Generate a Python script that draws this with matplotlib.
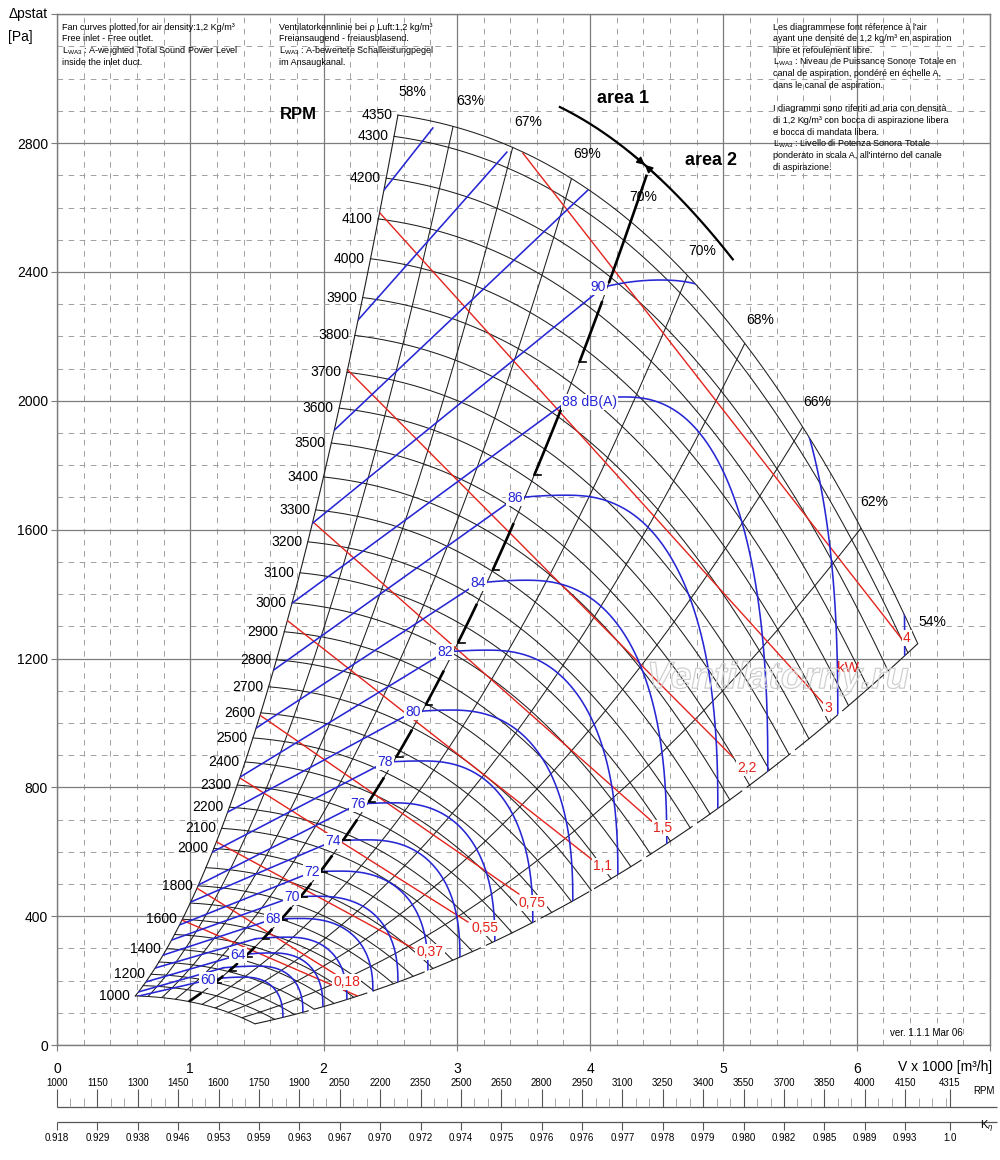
import numpy as np
import matplotlib.pyplot as plt
import matplotlib.patheffects as pe
from matplotlib.path import Path
from matplotlib.patches import PathPatch

plt.rcParams['font.family'] = ['Liberation Sans', 'DejaVu Sans']
plt.rcParams['mathtext.fontset'] = 'custom'
plt.rcParams['mathtext.rm'] = 'Liberation Sans'
plt.rcParams['mathtext.it'] = 'Liberation Sans:italic'
plt.rcParams['mathtext.bf'] = 'Liberation Sans:bold'
plt.rcParams['lines.scale_dashes'] = False

BLACK = '#1e1e1e'
BLUE = '#2626d4'
RED = '#e3231c'
GRID = '#7c7c7c'
GRID_MINOR = '#a0a0a0'

# ---- values (V x 1000 m3/h, static pressure in Pa) ----
# outer fan curve, 4350 rpm
base_rpm = 4350
base_v = [2.558, 2.970, 3.420, 3.863, 4.725, 5.160, 5.595, 6.038, 6.458]
base_p = [2887, 2850, 2788, 2694, 2384, 2179, 1918, 1608, 1242]

rpm_curves = list(range(1000, 4301, 100)) + [4350]
rpm_labels = [1000, 1200, 1400, 1600, 1800] + list(range(2000, 4301, 100)) + [4350]

# efficiency lines p = k * V^2
eff_k = [441, 323, 238.4, 180.5, 138, 106.8, 81.8, 61.3, 44.1, 29.78]
eff_text = ['58%', '63%', '67%', '69%', '70%', '70%', '68%', '66%', '62%', '54%']
eff_label_v = [2.663, 3.098, 3.533, 3.975, 4.395, 4.838, 5.273, 5.700, 6.135, 6.570]
eff_label_p = [2958, 2930, 2865, 2766, 2632, 2465, 2251, 1996, 1686, 1313]

# area 1 / area 2 border (70% line) and the arrow across it
border_k = 138
border_v = [0.99, 4.425]
arrow_v = [3.773, 4.148, 4.41, 4.523, 4.823, 5.07]
arrow_p = [2909, 2831, 2722, 2685, 2570, 2437]
arrow_cross_v = 4.41

# sound power contours LwA3, dB(A)
db_levels = [60, 62, 64, 66, 68, 70, 72, 74, 76, 78, 80, 82, 84, 86, 88, 90, 92, 94, 96]
db_start_v = [0.581, 0.612, 0.667, 0.736, 0.795, 0.860, 0.920, 1.003, 1.062, 1.165,
              1.280, 1.374, 1.494, 1.625, 1.764, 1.917, 2.081, 2.259, 2.453]
db_start_p = [149, 165, 196, 239, 279, 326, 373, 444, 497, 599,
              723, 832, 984, 1164, 1372, 1620, 1909, 2251, 2654]
db_cross_v = [1.133, 1.25, 1.358, 1.49, 1.620, 1.763, 1.913, 2.070, 2.258, 2.460,
              2.670, 2.910, 3.158, 3.435, 3.80, 4.10, 3.983, 3.375, 2.820]
db_cross_p = [202, 240, 279, 330, 391, 459, 537, 633, 748, 878,
              1034, 1220, 1434, 1698, 1990, 2353, 2654, 2772, 2847]
# area 2 arcs (60 ... 92): top of arc and foot on the 54% line
arc_peak_v = [1.395, 1.508, 1.613, 1.725, 1.823, 1.950, 2.123, 2.325, 2.520, 2.740,
              2.950, 3.230, 3.520, 3.820, 4.250, 4.523, 4.973]
arc_peak_p = [211, 245, 286, 335, 393, 462, 540, 637, 752, 882,
              1040, 1226, 1443, 1707, 2012, 2375, 2691]
arc_end_v = [1.695, 1.845, 1.995, 2.175, 2.370, 2.558, 2.783, 3.023, 3.285, 3.570,
             3.870, 4.208, 4.575, 4.958, 5.333, 5.858, 6.360]
arc_end_p = [86, 101, 119, 141, 167, 195, 231, 272, 321, 380,
             446, 527, 623, 732, 847, 1022, 1205]

db_label_text = ['60', '64', '68', '70', '72', '74', '76', '78', '80', '82',
                 '84', '86', '88 dB(A)', '90']
db_label_v = [1.133, 1.358, 1.620, 1.763, 1.913, 2.070, 2.258, 2.460, 2.670, 2.910,
              3.158, 3.435, 3.998, 4.058]
db_label_p = [202, 279, 391, 459, 537, 633, 748, 878, 1034, 1220,
              1434, 1698, 1996, 2353]

# shaft power lines, kW
kw_text = ['4', '3', '2,2', '1,5', '1,1', '0,75', '0,55', '0,37', '0,18', '']
kw_start_v = [3.495, 2.423, 2.183, 1.920, 1.725, 1.523, 1.373, 1.200, 1.050, 0.938]
kw_start_p = [2769, 2583, 2095, 1624, 1319, 1024, 829, 630, 487, 388]
kw_end_v = [6.345, 5.768, 5.070, 4.470, 4.020, 3.465, 3.083, 2.670, 2.100, 2.273]
kw_end_p = [1257, 1052, 894, 692, 574, 469, 382, 301, 217, 149]
kw_label_v = [6.375, 5.783, 5.175, 4.545, 4.095, 3.563, 3.210, 2.798, 2.175]
kw_label_p = [1263, 1046, 860, 674, 556, 441, 363, 289, 196]

# bottom scales
scale_rpm = [1000, 1150, 1300, 1450, 1600, 1750, 1900, 2050, 2200, 2350, 2500, 2650,
             2800, 2950, 3100, 3250, 3400, 3550, 3700, 3850, 4000, 4150, 4315]
scale_keta = ['0.918', '0.929', '0.938', '0.946', '0.953', '0.959', '0.963', '0.967',
              '0.970', '0.972', '0.974', '0.975', '0.976', '0.976', '0.977', '0.978',
              '0.979', '0.980', '0.982', '0.985', '0.989', '0.993', '1.0']
rpm_at_v0 = 1000
rpm_per_unit = (4315 - 1000) / 6.697

notes_en = ['Fan curves plotted for air density:1,2 Kg/m³',
            'Free inlet - Free outlet.',
            r'L$_{\mathrm{WA3}}$ : A-weighted Total Sound Power Level',
            'inside the inlet duct.']
notes_de = ['Ventilatorkennlinie bei ρ Luft:1,2 kg/m³',
            'Freiansaugend - freiausblasend.',
            r'L$_{\mathrm{WA3}}$ : A-bewertete Schalleistungpegel',
            'im Ansaugkanal.']
notes_fr_it = ["Les diagrammese font réference à l'air",
               'ayant une densité de 1,2 kg/m³ en aspiration',
               'libre et refoulement libre.',
               r'L$_{\mathrm{WA3}}$ : Niveau de Puissance Sonore Totale en',
               'canal de aspiration, pondéré en échelle A,',
               'dans le canal de aspiration.',
               '',
               'I diagrammi sono riferiti ad aria con densità',
               'di 1,2 Kg/m³ con bocca di aspirazione libera',
               'e bocca di mandata libera.',
               r'L$_{\mathrm{WA3}}$ : Livello di Potenza Sonora Totale',
               "ponderato in scala A, all'interno del canale",
               'di aspirazione.']

# ---- figure ----
fig = plt.figure(figsize=(10, 11.6), dpi=100)
ax = fig.add_axes([0.057, 0.0991, 0.933, 0.8886])
ax.set_xlim(0, 7)
ax.set_ylim(0, 3200)
ax.set_axisbelow(True)
ax.set_xticks(range(0, 8))
ax.set_xticklabels([str(i) for i in range(0, 7)] + [''])
ax.set_yticks(range(0, 3201, 400))
ax.set_yticklabels([str(i) for i in range(0, 3200, 400)] + [''])
ax.set_xticks(np.arange(0, 7.01, 0.2), minor=True)
ax.set_yticks(range(0, 3201, 100), minor=True)
ax.grid(which='major', color=GRID, lw=0.9)
ax.grid(which='minor', color=GRID_MINOR, lw=0.7, linestyle=(0, (4, 4)))
ax.tick_params(which='major', direction='out', length=4, color=GRID, labelsize=10)
ax.tick_params(axis='x', pad=8)
ax.tick_params(axis='y', pad=2.5)
ax.tick_params(which='minor', length=0)
for s in ax.spines.values():
    s.set_color(GRID)
    s.set_linewidth(1.0)

# fan curve fitted through the read points
coef = np.polyfit(base_v, base_p, 3)
vb = np.linspace(base_v[0], base_v[-1], 300)
pb = np.polyval(coef, vb)
r_min = rpm_curves[0] / base_rpm
r_lin = np.linspace(r_min, 1, 120)

env_v = np.concatenate([vb[0] * r_lin, vb, vb[-1] * r_lin[::-1], vb[::-1] * r_min])
env_p = np.concatenate([pb[0] * r_lin ** 2, pb, pb[-1] * r_lin[::-1] ** 2, pb[::-1] * r_min ** 2])
env = PathPatch(Path(np.column_stack([env_v, env_p])), fc='none', ec='none',
                transform=ax.transData)
ax.add_patch(env)

def clipped(lines):
    for ln in lines:
        ln.set_clip_path(env)

# rpm curves (fan laws)
for n in rpm_curves:
    r = n / base_rpm
    ax.plot(vb * r, pb * r ** 2, color=BLACK, lw=0.75, zorder=2)
for n in rpm_labels:
    r = n / base_rpm
    ax.annotate(str(n), (vb[0] * r, pb[0] * r ** 2), xytext=(-4, 0),
                textcoords='offset points', ha='right', va='center', fontsize=10)

# efficiency lines
vv = np.linspace(0, 7.2, 500)
ax.plot(vb[0] * r_lin, pb[0] * r_lin ** 2, color=BLACK, lw=0.8, zorder=2)
for k in eff_k[1:-1]:
    clipped(ax.plot(vv, k * vv ** 2, color=BLACK, lw=0.75, zorder=2))
ax.plot(vb[-1] * r_lin, pb[-1] * r_lin ** 2, color=BLACK, lw=0.8, zorder=2,
        dashes=(40, 4))
for t, x, y in zip(eff_text, eff_label_v, eff_label_p):
    ax.text(x, y, t, ha='center', va='center', fontsize=10)

# shaft power lines
for i in range(len(kw_text)):
    clipped(ax.plot([kw_start_v[i], kw_end_v[i]], [kw_start_p[i], kw_end_p[i]],
                    color=RED, lw=1.0, zorder=3))
lab_box = dict(boxstyle='square,pad=0.08', fc='white', ec='none')
for t, x, y in zip(kw_text, kw_label_v, kw_label_p):
    ax.text(x, y, t, color=RED, ha='center', va='center', fontsize=10,
            bbox=lab_box, zorder=6)
ax.text(5.933, 1170, 'kW', color=RED, ha='center', va='center', fontsize=11, zorder=6)

# sound power: straight part in area 1
for i in range(len(db_levels)):
    clipped(ax.plot([db_start_v[i], db_cross_v[i]], [db_start_p[i], db_cross_p[i]],
                    color=BLUE, lw=1.15, zorder=3))

# sound power: arcs in area 2
def arc(sv, sp, pv, pk, ev, ep, n=2.4):
    av, ap = [], []
    if pv > sv:
        v1 = np.linspace(sv, pv, 30)
        av.append(v1)
        ap.append(pk - (pk - sp) * ((pv - v1) / (pv - sv)) ** 2)
    t = np.linspace(np.pi / 2, -0.2, 160)
    c, s = np.cos(t), np.sin(t)
    av.append(pv + (ev - pv) * np.sign(c) * np.abs(c) ** (2 / n))
    ap.append(ep + (pk - ep) * np.sign(s) * np.abs(s) ** (2 / n))
    return np.concatenate(av), np.concatenate(ap)

for i in range(len(arc_end_v)):
    sv, sp = db_cross_v[i], db_cross_p[i]
    if db_levels[i] == 92:
        sv, sp = arc_peak_v[i], arc_peak_p[i]
    x, y = arc(sv, sp, arc_peak_v[i], arc_peak_p[i], arc_end_v[i], arc_end_p[i])
    clipped(ax.plot(x, y, color=BLUE, lw=1.15, zorder=3))

for t, x, y in zip(db_label_text, db_label_v, db_label_p):
    ax.text(x, y, t, color=BLUE, ha='center', va='center', fontsize=10,
            bbox=lab_box, zorder=6)

# area border: broken thick line between the contour crossings, solid at the top
cuts = [border_v[0]] + db_cross_v[:16]
for i in range(len(cuts) - 1):
    lo, hi = cuts[i], cuts[i + 1]
    if i == 0:
        a, b = lo, lo + 0.65 * (hi - lo)
    else:
        a, b = lo + 0.4 * (hi - lo), hi - 0.03 * (hi - lo)
    sv_ = np.linspace(a, b, 30)
    ax.plot(sv_, border_k * sv_ ** 2, color='black', lw=1.9, zorder=4,
            solid_capstyle='butt')
    if i > 0:
        ax.plot([a, a + 0.05], [border_k * a ** 2] * 2, color='black', lw=1.2, zorder=4)
bv = np.linspace(cuts[-1] + 0.04, border_v[1], 60)
ax.plot(bv, border_k * bv ** 2, color='black', lw=1.9, zorder=4, solid_capstyle='butt')

acoef = np.polyfit(arrow_v, arrow_p, 2)
av = np.linspace(arrow_v[0], arrow_v[-1], 100)
ax.plot(av, np.polyval(acoef, av), color='black', lw=1.6, zorder=4)
ac = (arrow_cross_v, np.polyval(acoef, arrow_cross_v))
for dv in (-0.12, 0.12):
    ax.annotate('', xy=ac, xytext=(arrow_cross_v + dv, np.polyval(acoef, arrow_cross_v + dv)),
                arrowprops=dict(arrowstyle='-|>', color='black', lw=1.2,
                                mutation_scale=11, shrinkA=0, shrinkB=0), zorder=5)
ax.text(4.245, 2940, 'area 1', fontsize=13, fontweight='bold', ha='center', va='center')
ax.text(4.905, 2747, 'area 2', fontsize=13, fontweight='bold', ha='center', va='center')
ax.text(1.808, 2890, 'RPM', fontsize=12, fontweight='bold', ha='center', va='center')
ax.text(6.52, 37, 'ver. 1.1.1 Mar 06', fontsize=7, ha='center', va='center')

ax.text(5.408, 1139, 'Ventilatorny.ru', fontsize=27, style='italic', fontweight='bold',
        color=(1, 1, 1, 0), ha='center', va='center', zorder=7,
        path_effects=[pe.Stroke(linewidth=0.9, foreground='#cfcfcf')])

# headings and notes
fig.text(0.028, 1 - 14 / 1160, 'Δpstat', fontsize=10, ha='center', va='center')
fig.text(0.020, 1 - 37 / 1160, '[Pa]', fontsize=10, ha='center', va='center')
fig.text(0.945, 1 - 1067 / 1160, 'V x 1000 [m³/h]', fontsize=10, ha='center', va='center')
for col_x, lines in ((62, notes_en), (279, notes_de), (773, notes_fr_it)):
    for j, line in enumerate(lines):
        if line:
            fig.text(col_x / 1000, 1 - (27 + 11.7 * j) / 1160, line, fontsize=6.5,
                     ha='left', va='center')

# rpm and K-eta scales below the chart
axb = fig.add_axes([0.057, 0.0086, 0.933, 0.0647])
axb.set_xlim(rpm_at_v0, rpm_at_v0 + 7 * rpm_per_unit)
axb.set_ylim(0, 75)
axb.axis('off')
x_end = rpm_at_v0 + 7.05 * rpm_per_unit
axb.hlines([43, 28], rpm_at_v0, x_end, color='#555555', lw=0.9, clip_on=False)
axb.vlines(scale_rpm, 43, 61, color='#555555', lw=0.8, clip_on=False)
minor_rpm = [m for m in range(1050, 4301, 50) if m not in scale_rpm]
axb.vlines(minor_rpm, 43, 52, color='#999999', lw=0.6, clip_on=False)
axb.vlines(scale_rpm, 20, 28, color='#555555', lw=0.8, clip_on=False)
for r, k in zip(scale_rpm, scale_keta):
    axb.text(r, 67, str(r), fontsize=7, ha='center', va='center', clip_on=False)
    axb.text(r, 12, k, fontsize=7, ha='center', va='center', clip_on=False)
axb.text(4442, 59, 'RPM', fontsize=7, ha='center', va='center', clip_on=False)
axb.text(4453, 23, r'K$_\eta$', fontsize=8, ha='center', va='center', clip_on=False)

fig.savefig('out.png', dpi=100)
